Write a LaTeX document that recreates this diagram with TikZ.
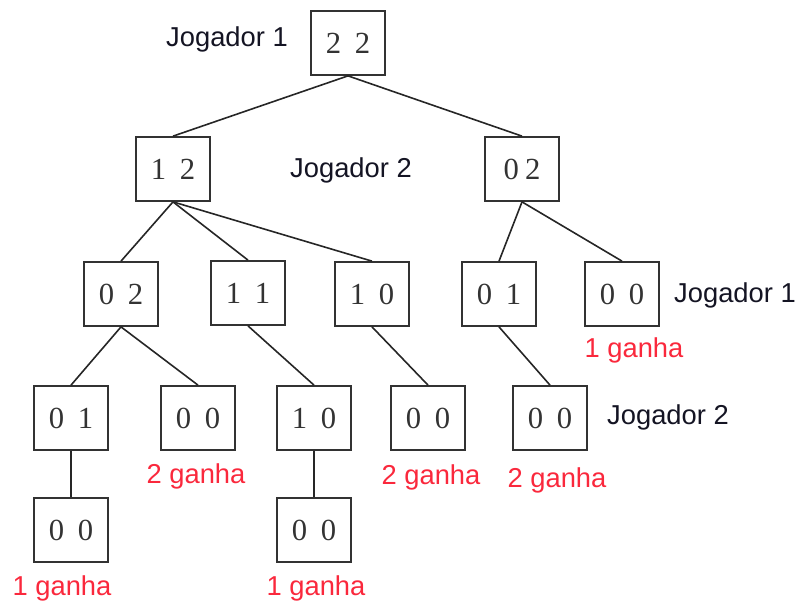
\documentclass[tikz,border=0pt]{standalone}
\usepackage{fontspec}
\setmainfont{Liberation Serif}
\newfontfamily\labelfont{Liberation Sans}
\definecolor{boxline}{RGB}{50,50,50}
\definecolor{wincol}{RGB}{250,40,60}
\definecolor{playercol}{RGB}{20,20,35}
\begin{document}
\begin{tikzpicture}[x=0.75pt,y=-0.75pt,
  state/.style={draw=boxline,line width=1.3pt,rectangle,minimum width=56pt,minimum height=48pt,
    inner sep=0pt,font=\fontsize{23}{27}\selectfont,text=black!80},
  player/.style={font=\labelfont\fontsize{20.5}{24}\selectfont,text=playercol},
  win/.style={font=\labelfont\fontsize{20.5}{24}\selectfont,text=wincol},
  edge/.style={draw=black!85,line width=1.2pt}]
\useasboundingbox (0,0) rectangle (798,604);
\newcommand{\pair}[2]{#1\hspace{0.45em}#2}
% game states
\node[state] (root) at (348,43) {\pair{2}{2}};
\node[state] (s12) at (173,169) {\pair{1}{2}};
\node[state] (s02) at (522,169) {0\hspace{0.2em}2};
\node[state] (a) at (121,294) {\pair{0}{2}};
\node[state] (b) at (248,293) {\pair{1}{1}};
\node[state] (c) at (372,294) {\pair{1}{0}};
\node[state] (d) at (499,294) {\pair{0}{1}};
\node[state] (e) at (622,294) {\pair{0}{0}};
\node[state] (f) at (71,418) {\pair{0}{1}};
\node[state] (g) at (198,418) {\pair{0}{0}};
\node[state] (h) at (314,418) {\pair{1}{0}};
\node[state] (i) at (428,418) {\pair{0}{0}};
\node[state] (j) at (550,418) {\pair{0}{0}};
\node[state] (k) at (71,530) {\pair{0}{0}};
\node[state] (l) at (314,530) {\pair{0}{0}};
% moves
\draw[edge] (root.south) -- (s12.north);
\draw[edge] (root.south) -- (s02.north);
\draw[edge] (s12.south) -- (a.north);
\draw[edge] (s12.south) -- (b.north);
\draw[edge] (s12.south) -- (c.north);
\draw[edge] (s02.south) -- (d.north);
\draw[edge] (s02.south) -- (e.north);
\draw[edge] (a.south) -- (f.north);
\draw[edge] (a.south) -- (g.north);
\draw[edge] (b.south) -- (h.north);
\draw[edge] (c.south) -- (i.north);
\draw[edge] (d.south) -- (j.north);
\draw[edge] (f.south) -- (k.north);
\draw[edge] (h.south) -- (l.north);
% player to move
\node[player] (p1) at (227,39) {Jogador 1};
\node[player] (p2) at (351,170) {Jogador 2};
\node[player] (p3) at (735,295) {Jogador 1};
\node[player] (p4) at (668,417) {Jogador 2};
% outcomes
\node[win] (w1) at (634,350) {1 ganha};
\node[win] (w2) at (196,476) {2 ganha};
\node[win] (w3) at (431,477) {2 ganha};
\node[win] (w4) at (557,480) {2 ganha};
\node[win] (w5) at (62,588) {1 ganha};
\node[win] (w6) at (316,588) {1 ganha};
\end{tikzpicture}
\end{document}
